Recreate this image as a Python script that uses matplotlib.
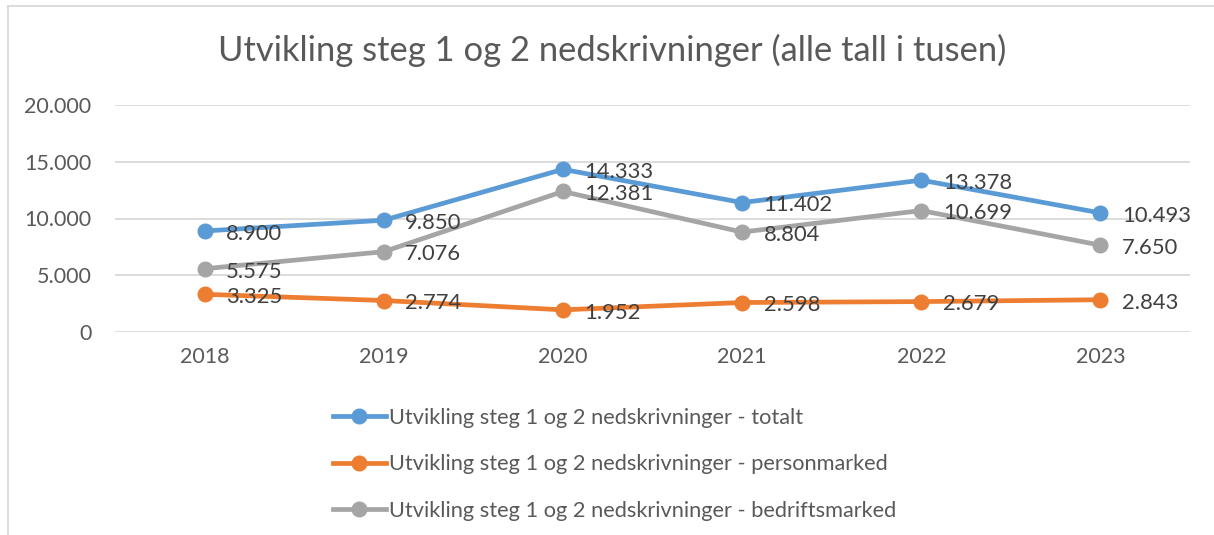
import matplotlib
matplotlib.use("Agg")
import matplotlib.pyplot as plt
from matplotlib.lines import Line2D

years = ["2018", "2019", "2020", "2021", "2022", "2023"]
totalt = [8900, 9850, 14333, 11402, 13378, 10493]
personmarked = [3325, 2774, 1952, 2598, 2679, 2843]
bedriftsmarked = [5575, 7076, 12381, 8804, 10699, 7650]
series_names = [
    "Utvikling steg 1 og 2 nedskrivninger - totalt",
    "Utvikling steg 1 og 2 nedskrivninger - personmarked",
    "Utvikling steg 1 og 2 nedskrivninger - bedriftsmarked",
]
title = "Utvikling steg 1 og 2 nedskrivninger (alle tall i tusen)"
yticks = [0, 5000, 10000, 15000, 20000]

colors = ["#5B9BD5", "#ED7D31", "#A5A5A5"]
txt = "#595959"
plt.rcParams['font.family'] = ['Lato', 'DejaVu Sans']

W, H = 1214, 535
fig = plt.figure(figsize=(W / 100, H / 100), dpi=100)
ax = fig.add_axes([115 / W, 1 - 332 / H, (1190 - 115) / W, (332 - 105) / H])

def fmt(v):
    return f"{v:,}".replace(",", ".")

x = list(range(len(years)))
all_series = [totalt, personmarked, bedriftsmarked]
for vals, c, name in zip(all_series, colors, series_names):
    ax.plot(x, vals, color=c, lw=3.4, marker='o', ms=10.5, label=name,
            solid_capstyle='round', zorder=3)
    for xi, v in zip(x, vals):
        ax.annotate(fmt(v), (xi, v), xytext=(15.5, -2), textcoords='offset points',
                    ha='left', va='center', fontsize=15.8, color='#404040', zorder=4)

ax.set_xlim(-0.5, len(years) - 0.5)
ax.set_ylim(0, 20000)
ax.set_yticks(yticks)
ax.set_yticklabels([fmt(t) if t else "0" for t in yticks])
ax.set_xticks(x)
ax.set_xticklabels(years)
ax.grid(axis='y', color='#D9D9D9', lw=1.3)
ax.set_axisbelow(True)
for s in ax.spines.values():
    s.set_visible(False)
ax.tick_params(axis='both', length=0, labelsize=15.5, colors=txt)
ax.tick_params(axis='y', pad=17)
ax.tick_params(axis='x', pad=11)

fig.text(612 / W, 1 - 50 / H, title, ha='center', va='center', fontsize=24.8, color=txt)

handles = [Line2D([0], [0], color=c, lw=3.4, marker='o', ms=10.5) for c in colors]
leg = fig.legend(handles, series_names, loc='upper left',
                 bbox_to_anchor=(313 / W, 1 - 388 / H), frameon=False,
                 fontsize=15.7, labelcolor=txt, handlelength=2.45, handletextpad=0.12,
                 labelspacing=1.22)

# chart border (left and top visible)
fig.add_artist(Line2D([8 / W, 8 / W], [0, 1 - 6 / H], color='#D9D9D9', lw=1.3,
                      transform=fig.transFigure))
fig.add_artist(Line2D([8 / W, 1], [1 - 6 / H, 1 - 6 / H], color='#D9D9D9', lw=1.3,
                      transform=fig.transFigure))

fig.savefig("out.png", dpi=100)
